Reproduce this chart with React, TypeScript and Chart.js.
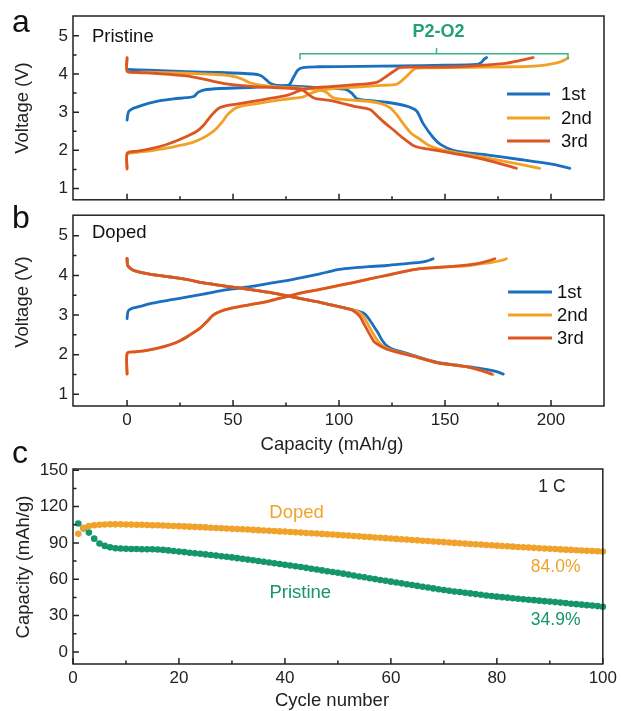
import React, { useEffect, useRef } from 'react';
import { Chart, registerables } from 'chart.js';

Chart.register(...registerables);

type Pt = [number, number];

const FONT = '"Liberation Sans", Arial, Helvetica, sans-serif';
const BLUE = '#1a6fbf';
const ORANGE = '#f2a126';
const RED = '#dc5622';
const GREEN = '#14956a';
const DOPED_C = '#f0a22a';
const BRACKET = '#3bb38c';
const INK = '#222222';

// ---------- Panel a : Pristine (capacity mAh/g, voltage V) ----------
const pristineCharge1: Pt[] = [[0, 2.79], [0.3, 2.92], [0.8, 3.02], [3, 3.1], [6, 3.16], [10, 3.23], [15.6, 3.3], [22, 3.35], [28, 3.38], [31.5, 3.41], [33.5, 3.52], [36, 3.58], [44, 3.62], [60, 3.65], [72, 3.68], [76.5, 3.72], [78.4, 3.9], [80.5, 4.1], [83, 4.17], [90, 4.19], [110, 4.2], [128.7, 4.21], [150, 4.23], [164.9, 4.25], [167, 4.3], [168.5, 4.39], [169.6, 4.43]];
const pristineDischarge1: Pt[] = [[0, 4.12], [10, 4.1], [28, 4.06], [44, 4.04], [59.6, 4.0], [63, 3.96], [65, 3.88], [67.4, 3.76], [70, 3.71], [76, 3.69], [85, 3.66], [95, 3.63], [103, 3.6], [106, 3.5], [108.3, 3.36], [115, 3.3], [122.4, 3.26], [131.9, 3.16], [136.6, 3.03], [139.7, 2.7], [144.5, 2.33], [148, 2.15], [153.9, 2.0], [160, 1.94], [169.6, 1.88], [185.3, 1.76], [201, 1.63], [208.9, 1.53]];
const pristineCharge2: Pt[] = [[0, 1.55], [0.1, 1.9], [5, 1.95], [12.4, 2.0], [20, 2.07], [25, 2.13], [31, 2.21], [36, 2.33], [39.5, 2.45], [42.3, 2.58], [45, 2.75], [47, 2.91], [49.5, 3.04], [51.7, 3.12], [55, 3.17], [59.6, 3.21], [66, 3.27], [72.2, 3.32], [79, 3.37], [83.2, 3.4], [86, 3.48], [91, 3.58], [100, 3.63], [106.7, 3.65], [120, 3.7], [127, 3.73], [129.5, 3.82], [131.9, 3.94], [134, 4.06], [135.8, 4.14], [140, 4.16], [153.9, 4.17], [185.3, 4.19], [195, 4.22], [201, 4.27], [205, 4.33], [208, 4.42]];
const pristineDischarge2: Pt[] = [[0, 4.4], [0.1, 4.07], [10, 4.05], [28, 4.02], [43.9, 3.98], [48, 3.96], [51.7, 3.92], [55, 3.85], [58, 3.77], [62.7, 3.71], [70, 3.67], [75.3, 3.65], [85, 3.62], [91, 3.58], [94, 3.52], [96, 3.43], [98, 3.36], [105, 3.32], [114.6, 3.28], [120, 3.22], [124, 3.12], [127, 2.95], [130.3, 2.7], [134, 2.45], [138.2, 2.29], [142, 2.14], [146, 2.05], [152, 1.97], [161.7, 1.88], [177.5, 1.72], [194.7, 1.53]];
const pristineCharge3: Pt[] = [[0, 1.51], [0.1, 1.93], [5, 1.98], [12.4, 2.06], [18, 2.14], [23.4, 2.25], [28, 2.36], [32.9, 2.5], [36, 2.65], [39.1, 2.87], [41.5, 3.02], [43.9, 3.12], [47, 3.17], [51.7, 3.21], [60, 3.29], [67.4, 3.36], [75.3, 3.44], [78.5, 3.5], [81.6, 3.57], [87.9, 3.64], [95.7, 3.67], [105, 3.71], [114, 3.75], [117.7, 3.78], [120, 3.85], [122.4, 3.94], [125.5, 4.06], [128.7, 4.17], [140, 4.18], [153.9, 4.19], [165, 4.22], [177.5, 4.27], [185.3, 4.35], [191.6, 4.43]];
const pristineDischarge3: Pt[] = [[0, 4.43], [0.1, 4.07], [5, 4.04], [12.4, 4.02], [20, 3.99], [28, 3.95], [35, 3.88], [40.7, 3.81], [46, 3.75], [51.7, 3.71], [60, 3.67], [67.4, 3.65], [75, 3.63], [81.6, 3.61], [83.5, 3.56], [85.5, 3.47], [87.5, 3.39], [89.4, 3.35], [95.7, 3.31], [101, 3.24], [106.7, 3.16], [114.6, 3.07], [118, 2.9], [122, 2.7], [125.6, 2.54], [130, 2.33], [135, 2.13], [140, 2.05], [146, 2.0], [161.7, 1.84], [173, 1.7], [183.7, 1.53]];

// ---------- Panel b : Doped ----------
const dopedCharge1: Pt[] = [[0, 2.91], [0.3, 3.05], [0.8, 3.12], [3, 3.18], [6.1, 3.22], [12, 3.3], [20.3, 3.38], [28, 3.45], [36, 3.53], [43.9, 3.61], [50, 3.66], [59.6, 3.73], [67, 3.8], [75.3, 3.87], [83, 3.95], [91, 4.04], [95.7, 4.1], [100, 4.15], [106.7, 4.19], [114, 4.22], [122.4, 4.25], [132, 4.3], [138, 4.33], [141.3, 4.36], [143, 4.39], [144.4, 4.42]];
const dopedDischarge1: Pt[] = [[0, 4.43], [0.3, 4.25], [2, 4.16], [4.6, 4.1], [10, 4.04], [20.3, 3.96], [28, 3.9], [36, 3.81], [44, 3.75], [51.7, 3.69], [60, 3.63], [67.4, 3.57], [75, 3.49], [83.2, 3.4], [91, 3.32], [95.7, 3.26], [101, 3.2], [105, 3.15], [109, 3.1], [111.5, 3.05], [113.5, 2.95], [116, 2.75], [118.5, 2.54], [120.5, 2.35], [122.4, 2.23], [126, 2.12], [130.3, 2.06], [135, 1.98], [146, 1.81], [155, 1.74], [162, 1.69], [170, 1.62], [174.3, 1.57], [177.5, 1.51]];
const dopedCharge2: Pt[] = [[0, 1.51], [0.1, 2.04], [4, 2.07], [9.3, 2.11], [15, 2.17], [20.3, 2.25], [25, 2.35], [29.7, 2.5], [34, 2.65], [37.6, 2.83], [40, 2.97], [42.3, 3.05], [46, 3.13], [51.7, 3.2], [60, 3.28], [67.4, 3.36], [75, 3.46], [83.2, 3.57], [91, 3.65], [95.7, 3.7], [106.7, 3.82], [115, 3.92], [122.4, 4.0], [130, 4.09], [138.2, 4.17], [146, 4.2], [153.9, 4.22], [160, 4.24], [166.5, 4.29], [172, 4.33], [176, 4.37], [179, 4.42]];
const dopedDischarge2: Pt[] = [[0, 4.43], [0.3, 4.25], [2, 4.16], [4.6, 4.1], [10, 4.04], [20.3, 3.96], [28, 3.9], [36, 3.81], [44, 3.75], [51.7, 3.69], [60, 3.63], [67.4, 3.57], [75, 3.49], [83.2, 3.4], [91, 3.32], [95.7, 3.26], [101, 3.2], [105, 3.15], [108.5, 3.1], [111, 3.0], [113.5, 2.78], [116, 2.54], [118.5, 2.33], [120.9, 2.21], [125.6, 2.1], [135, 1.97], [146, 1.8], [155, 1.73], [161.7, 1.68], [167, 1.6], [172.7, 1.5]];
const dopedCharge3: Pt[] = [[0, 1.51], [0.1, 2.04], [4, 2.07], [9.3, 2.11], [15, 2.17], [20.3, 2.25], [25, 2.35], [29.7, 2.5], [34, 2.65], [37.6, 2.83], [40, 2.97], [42.3, 3.05], [46, 3.13], [51.7, 3.2], [60, 3.28], [67.4, 3.36], [75, 3.46], [83.2, 3.57], [91, 3.65], [95.7, 3.7], [106.7, 3.82], [115, 3.92], [122.4, 4.0], [130, 4.09], [138.2, 4.17], [146, 4.2], [153.9, 4.23], [160, 4.26], [166.5, 4.31], [170, 4.36], [173.5, 4.42]];
const dopedDischarge3: Pt[] = [[0, 4.43], [0.3, 4.25], [2, 4.16], [4.6, 4.1], [10, 4.04], [20.3, 3.96], [28, 3.9], [36, 3.81], [44, 3.75], [51.7, 3.69], [60, 3.63], [67.4, 3.57], [75, 3.49], [83.2, 3.4], [91, 3.32], [95.7, 3.26], [101, 3.2], [105, 3.15], [107.5, 3.08], [109.9, 2.96], [112, 2.75], [114.6, 2.5], [116.5, 2.33], [118.5, 2.25], [122, 2.15], [125.6, 2.09], [135, 1.96], [146, 1.8], [155, 1.73], [161.7, 1.68], [167, 1.6], [172, 1.51]];

const cycleNames = ['1st', '2nd', '3rd'];
const cycleColors = [BLUE, ORANGE, RED];

// P2-O2 bracket (capacity range, voltage levels)
const bracketRange = [81.6, 208];
const bracketMid = 146;
const bracketLevels = [4.38, 4.53, 4.68];

// axes
const capacityTicks = [0, 50, 100, 150, 200];
const capacityMinor = [25, 75, 125, 175];
const voltageTicks = [1, 2, 3, 4, 5];
const voltageMinor = [1.5, 2.5, 3.5, 4.5];

// ---------- Panel c : cycling ----------
const cycles = Array.from({ length: 100 }, (_, i) => i + 1);
const dopedCapacity = [
  97.5, 102.5, 104.0, 104.6, 105.0, 105.2, 105.3, 105.3, 105.3, 105.2,
  105.1, 105.0, 104.9, 104.8, 104.6, 104.5, 104.3, 104.2, 104.0, 103.8,
  103.6, 103.4, 103.2, 103.0, 102.8, 102.5, 102.3, 102.1, 101.9, 101.6,
  101.4, 101.2, 101.0, 100.7, 100.5, 100.2, 100.0, 99.8, 99.5, 99.3,
  99.0, 98.8, 98.5, 98.2, 98.0, 97.7, 97.4, 97.1, 96.9, 96.6,
  96.3, 96.0, 95.7, 95.4, 95.1, 94.8, 94.5, 94.2, 93.9, 93.6,
  93.3, 93.0, 92.7, 92.4, 92.1, 91.8, 91.5, 91.2, 90.9, 90.6,
  90.3, 90.0, 89.7, 89.4, 89.1, 88.8, 88.6, 88.3, 88.0, 87.7,
  87.4, 87.2, 86.9, 86.6, 86.4, 86.1, 85.9, 85.6, 85.4, 85.1,
  84.9, 84.6, 84.4, 84.2, 83.9, 83.7, 83.5, 83.3, 83.1, 82.9,
];
const pristineCapacity = [
  106.0, 102.0, 98.5, 93.5, 89.5, 87.5, 86.3, 85.6, 85.3, 85.1,
  85.0, 84.9, 84.8, 84.8, 84.7, 84.5, 84.2, 83.8, 83.3, 82.8,
  82.4, 81.9, 81.5, 81.0, 80.5, 80.0, 79.5, 79.0, 78.5, 78.0,
  77.4, 76.8, 76.2, 75.6, 75.0, 74.4, 73.8, 73.2, 72.6, 72.0,
  71.3, 70.7, 70.1, 69.4, 68.7, 68.0, 67.3, 66.6, 66.0, 65.4,
  64.6, 63.8, 63.1, 62.3, 61.6, 60.8, 60.1, 59.4, 58.7, 58.0,
  57.3, 56.6, 55.9, 55.2, 54.5, 53.8, 53.1, 52.4, 51.7, 51.1,
  50.5, 49.9, 49.4, 48.8, 48.3, 47.7, 47.2, 46.6, 46.1, 45.6,
  45.2, 44.8, 44.3, 43.9, 43.5, 43.1, 42.7, 42.3, 41.9, 41.5,
  41.1, 40.7, 40.3, 39.8, 39.4, 39.0, 38.6, 38.2, 37.8, 37.3,
];
const cycleTicks = [0, 20, 40, 60, 80, 100];
const cycleMinor = [10, 30, 50, 70, 90];
const capTicksC = [0, 30, 60, 90, 120, 150];
const capMinorC = [15, 45, 75, 105, 135];

// ---------- helpers ----------
function lineDs(pts: Pt[], color: string, order: number) {
  return {
    data: pts.map(([x, y]) => ({ x, y })),
    showLine: true,
    borderColor: color,
    backgroundColor: color,
    borderWidth: 2.8,
    pointRadius: 0,
    tension: 0.25,
    borderCapStyle: 'round',
    borderJoinStyle: 'round',
    order,
  };
}

function decoPlugin(d: {
  xMajor: number[]; xMinor: number[]; yMajor: number[]; yMinor: number[];
  extra?: (chart: any, ctx: CanvasRenderingContext2D) => void;
}) {
  return {
    id: 'deco',
    afterDatasetsDraw(chart: any) {
      const { ctx, chartArea: a, scales } = chart;
      const xs = scales.x;
      const ys = scales.y;
      ctx.save();
      ctx.strokeStyle = INK;
      ctx.lineWidth = 1.5;
      ctx.strokeRect(a.left, a.top, a.right - a.left, a.bottom - a.top);
      ctx.beginPath();
      d.xMajor.forEach((v) => { const p = xs.getPixelForValue(v); ctx.moveTo(p, a.bottom); ctx.lineTo(p, a.bottom - 6); });
      d.xMinor.forEach((v) => { const p = xs.getPixelForValue(v); ctx.moveTo(p, a.bottom); ctx.lineTo(p, a.bottom - 3.5); });
      d.yMajor.forEach((v) => { const p = ys.getPixelForValue(v); ctx.moveTo(a.left, p); ctx.lineTo(a.left + 6, p); });
      d.yMinor.forEach((v) => { const p = ys.getPixelForValue(v); ctx.moveTo(a.left, p); ctx.lineTo(a.left + 3.5, p); });
      ctx.stroke();
      ctx.restore();
      if (d.extra) {
        ctx.save();
        d.extra(chart, ctx);
        ctx.restore();
      }
    },
  };
}

function text(ctx: CanvasRenderingContext2D, s: string, x: number, y: number, size: number, color: string, align: CanvasTextAlign = 'left', weight = 'normal') {
  ctx.font = `${weight} ${size}px ${FONT}`;
  ctx.fillStyle = color;
  ctx.textAlign = align;
  ctx.textBaseline = 'middle';
  ctx.fillText(s, x, y);
}

function vtext(ctx: CanvasRenderingContext2D, s: string, x: number, y: number, size: number) {
  ctx.save();
  ctx.translate(x, y);
  ctx.rotate(-Math.PI / 2);
  text(ctx, s, 0, 0, size, INK, 'center');
  ctx.restore();
}

function letter(ctx: CanvasRenderingContext2D, s: string, x: number, baseline: number) {
  ctx.font = `normal 32px ${FONT}`;
  ctx.fillStyle = '#111';
  ctx.textAlign = 'left';
  ctx.textBaseline = 'alphabetic';
  ctx.fillText(s, x, baseline);
}

function legend(ctx: CanvasRenderingContext2D, x0: number, x1: number, tx: number, ys: number[]) {
  ys.forEach((y, i) => {
    ctx.strokeStyle = cycleColors[i];
    ctx.lineWidth = 3;
    ctx.beginPath();
    ctx.moveTo(x0, y);
    ctx.lineTo(x1, y);
    ctx.stroke();
    text(ctx, cycleNames[i], tx, y + 1, 18.5, '#111');
  });
}

function voltageScales(showX: boolean, xHeight: number) {
  return {
    x: {
      type: 'linear', min: -25.5, max: 225,
      grid: { display: false, drawTicks: false }, border: { display: false },
      ticks: { display: showX, padding: 4, color: INK, font: { family: FONT, size: 17 } },
      afterBuildTicks: (s: any) => { s.ticks = capacityTicks.map((v) => ({ value: v })); },
      afterFit: (s: any) => { s.height = xHeight; },
    },
    y: {
      type: 'linear', min: 0.704, max: 5.52,
      grid: { display: false, drawTicks: false }, border: { display: false },
      ticks: { padding: 5, color: INK, font: { family: FONT, size: 17 } },
      afterBuildTicks: (s: any) => { s.ticks = voltageTicks.map((v) => ({ value: v })); },
      afterFit: (s: any) => { s.width = 73; },
    },
  };
}

const baseOpts = {
  animation: false,
  responsive: false,
  devicePixelRatio: 1,
  events: [],
  plugins: { legend: { display: false }, tooltip: { enabled: false } },
};

function configA() {
  return {
    type: 'scatter',
    data: {
      datasets: [
        lineDs(pristineCharge3, RED, 0), lineDs(pristineDischarge3, RED, 0),
        lineDs(pristineCharge2, ORANGE, 1), lineDs(pristineDischarge2, ORANGE, 1),
        lineDs(pristineCharge1, BLUE, 2), lineDs(pristineDischarge1, BLUE, 2),
      ],
    },
    options: {
      ...baseOpts,
      layout: { padding: { top: 16, right: 17, bottom: 4, left: 0 } },
      scales: voltageScales(false, 0),
    },
    plugins: [decoPlugin({
      xMajor: capacityTicks, xMinor: capacityMinor, yMajor: voltageTicks, yMinor: voltageMinor,
      extra: (chart, ctx) => {
        const xs = chart.scales.x; const ys = chart.scales.y;
        letter(ctx, 'a', 12, 32);
        vtext(ctx, 'Voltage (V)', 23, 108, 18.5);
        text(ctx, 'Pristine', 92, 37, 18.5, '#111');
        // P2-O2 bracket
        const xl = xs.getPixelForValue(bracketRange[0]);
        const xr = xs.getPixelForValue(bracketRange[1]);
        const xm = xs.getPixelForValue(bracketMid);
        const yLo = ys.getPixelForValue(bracketLevels[0]);
        const yMid = ys.getPixelForValue(bracketLevels[1]);
        const yHi = ys.getPixelForValue(bracketLevels[2]);
        ctx.strokeStyle = BRACKET;
        ctx.lineWidth = 1.5;
        ctx.beginPath();
        ctx.moveTo(xl, yLo); ctx.lineTo(xl, yMid); ctx.lineTo(xr, yMid); ctx.lineTo(xr, yLo);
        ctx.moveTo(xm, yMid); ctx.lineTo(xm, yHi);
        ctx.stroke();
        text(ctx, 'P2-O2', xm + 2, 32, 18, '#23a074', 'center', 'bold');
        legend(ctx, 507, 550, 561, [94, 118, 141]);
      },
    })],
  };
}

function configB() {
  return {
    type: 'scatter',
    data: {
      datasets: [
        lineDs(dopedCharge3, RED, 0), lineDs(dopedDischarge3, RED, 0),
        lineDs(dopedCharge2, ORANGE, 1), lineDs(dopedDischarge2, ORANGE, 1),
        lineDs(dopedCharge1, BLUE, 2), lineDs(dopedDischarge1, BLUE, 2),
      ],
    },
    options: {
      ...baseOpts,
      layout: { padding: { top: 11, right: 17, bottom: 0, left: 0 } },
      scales: voltageScales(true, 54),
    },
    plugins: [decoPlugin({
      xMajor: capacityTicks, xMinor: capacityMinor, yMajor: voltageTicks, yMinor: voltageMinor,
      extra: (chart, ctx) => {
        letter(ctx, 'b', 12, 28);
        vtext(ctx, 'Voltage (V)', 23, 102, 18.5);
        text(ctx, 'Doped', 92, 33, 18.5, '#111');
        text(ctx, 'Capacity (mAh/g)', 332, 245, 18.5, INK, 'center');
        legend(ctx, 508, 552, 557, [92, 115, 138]);
      },
    })],
  };
}

function configC() {
  const pts = (vals: number[]) => vals.map((v, i) => ({ x: cycles[i], y: v }));
  return {
    type: 'scatter',
    data: {
      datasets: [
        { data: pts(dopedCapacity), pointRadius: 3.3, pointBorderWidth: 0, pointBackgroundColor: DOPED_C, backgroundColor: DOPED_C, borderColor: DOPED_C, clip: 4 },
        { data: pts(pristineCapacity), pointRadius: 3.3, pointBorderWidth: 0, pointBackgroundColor: GREEN, backgroundColor: GREEN, borderColor: GREEN, clip: 4 },
      ],
    },
    options: {
      ...baseOpts,
      layout: { padding: { top: 29, right: 17, bottom: 0, left: 0 } },
      scales: {
        x: {
          type: 'linear', min: 0, max: 100,
          grid: { display: false, drawTicks: false }, border: { display: false },
          ticks: { padding: 4, color: INK, font: { family: FONT, size: 17 } },
          afterBuildTicks: (s: any) => { s.ticks = cycleTicks.map((v) => ({ value: v })); },
          afterFit: (s: any) => { s.height = 47; },
        },
        y: {
          type: 'linear', min: -10, max: 151,
          grid: { display: false, drawTicks: false }, border: { display: false },
          ticks: { padding: 5, color: INK, font: { family: FONT, size: 17 } },
          afterBuildTicks: (s: any) => { s.ticks = capTicksC.map((v) => ({ value: v })); },
          afterFit: (s: any) => { s.width = 73; },
        },
      },
    },
    plugins: [decoPlugin({
      xMajor: cycleTicks, xMinor: cycleMinor, yMajor: capTicksC, yMinor: capMinorC,
      extra: (chart, ctx) => {
        const xs = chart.scales.x; const ys = chart.scales.y;
        letter(ctx, 'c', 12, 23);
        vtext(ctx, 'Capacity (mAh/g)', 24, 127, 18.5);
        text(ctx, 'Cycle number', 332, 261, 18.5, INK, 'center');
        text(ctx, 'Doped', xs.getPixelForValue(42.2), ys.getPixelForValue(114.6), 18.5, DOPED_C, 'center');
        text(ctx, 'Pristine', xs.getPixelForValue(42.9), ys.getPixelForValue(48.6), 18.5, GREEN, 'center');
        text(ctx, '84.0%', xs.getPixelForValue(91.1), ys.getPixelForValue(70), 17.5, DOPED_C, 'center');
        text(ctx, '34.9%', xs.getPixelForValue(91.1), ys.getPixelForValue(26.4), 17.5, GREEN, 'center');
        text(ctx, '1 C', xs.getPixelForValue(90.4), ys.getPixelForValue(136), 17.5, '#2a2220', 'center');
      },
    })],
  };
}

function ChartCanvas({ top, height, build }: { top: number; height: number; build: () => any }) {
  const ref = useRef<HTMLCanvasElement>(null);
  useEffect(() => {
    const chart = new Chart(ref.current as HTMLCanvasElement, build());
    return () => chart.destroy();
  }, []);
  return (
    <canvas
      ref={ref}
      width={621}
      height={height}
      style={{ position: 'absolute', left: 0, top, width: 621, height }}
    />
  );
}

export default function App() {
  return (
    <div style={{ position: 'absolute', left: 0, top: 0, width: 621, height: 711, background: '#fff', overflow: 'hidden' }}>
      <ChartCanvas top={440} height={271} build={configC} />
      <ChartCanvas top={200} height={260} build={configB} />
      <ChartCanvas top={0} height={215} build={configA} />
    </div>
  );
}
